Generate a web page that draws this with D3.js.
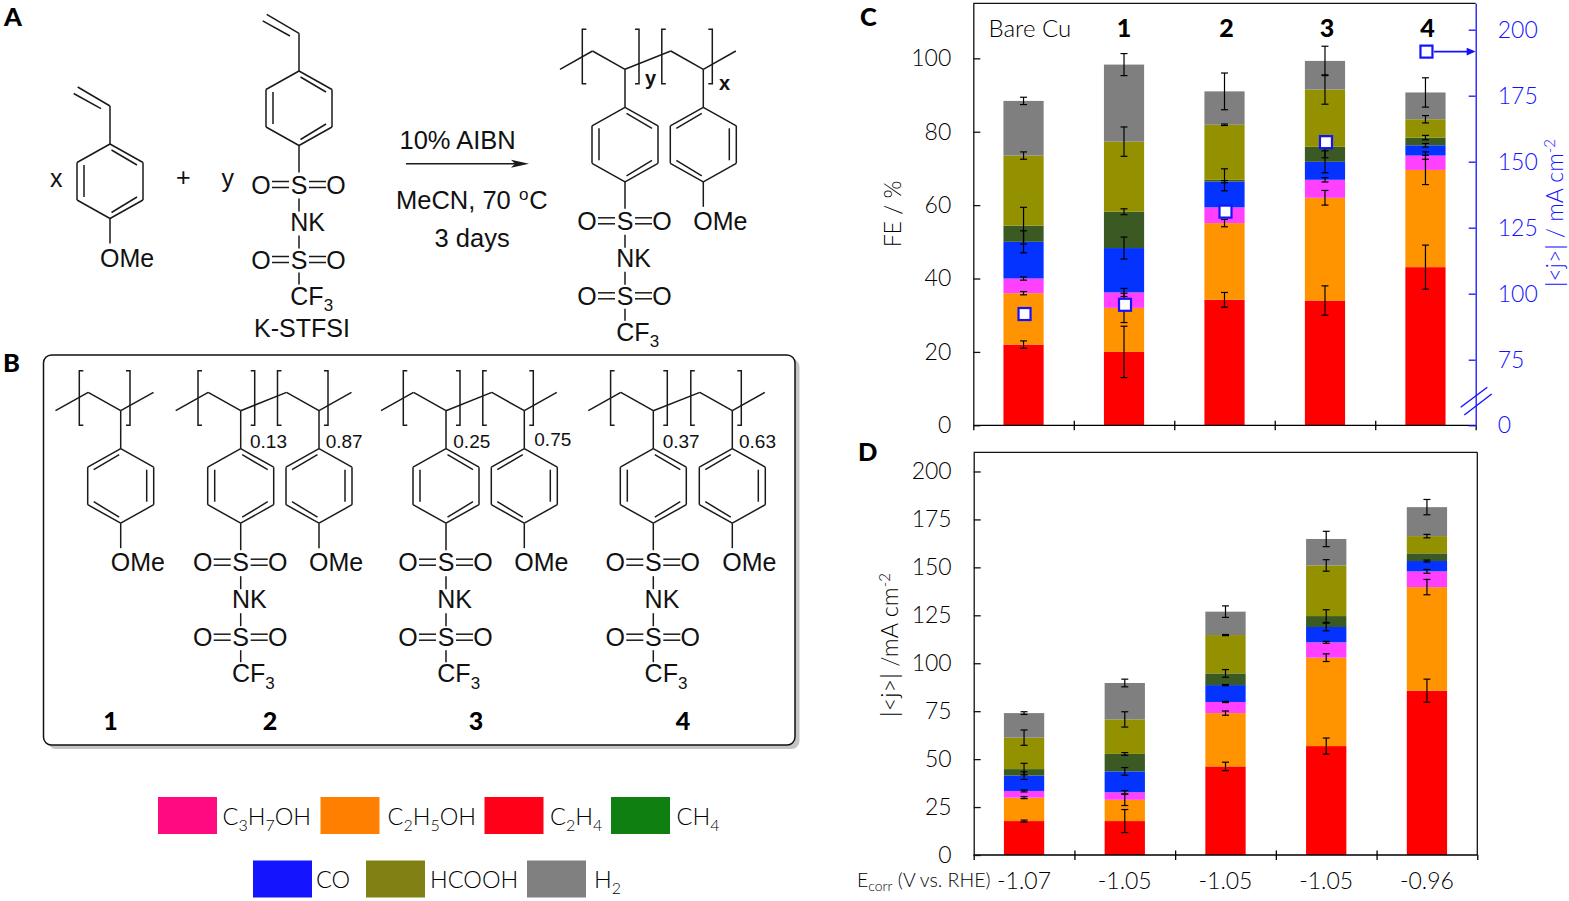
<!DOCTYPE html>
<html>
<head>
<meta charset="utf-8">
<script src="https://cdn.jsdelivr.net/npm/d3@7"></script>
<style>
body { margin: 0; background: #fff; }
svg { display: block; }
text { font-family: Lato, "Open Sans", sans-serif; font-weight: 300; fill: #000; }
.chem text, text.chem { font-family: "Liberation Sans", Arial, sans-serif; font-weight: 400; fill: #111; }
</style>
</head>
<body>
<svg id="fig" width="1569" height="901"></svg>
<script>
// DATA
const catalysts = ["Bare Cu", "1", "2", "3", "4"];
const ecorr = ["-1.07", "-1.05", "-1.05", "-1.05", "-0.96"];
const products = ["C2H4", "C2H5OH", "C3H7OH", "CO", "CH4", "HCOOH", "H2"];
const barColors = ["#ff0000", "#ff9400", "#ff40ff", "#0433ff", "#3b5a23", "#949100", "#7f7f7f"];

// panel C, faradaic efficiency of each product, stacked bottom to top
const feC2H4 = [22, 20, 34.2, 34, 43.1];
const feC2H5OH = [14, 12, 20.9, 28, 26.5];
const feC3H7OH = [4, 4.2, 4.3, 4.9, 3.9];
const feCO = [10, 12.1, 7, 4.9, 2.8];
const feCH4 = [4.4, 9.9, 0.5, 4.1, 2.1];
const feHCOOH = [19.1, 19.1, 15, 15.6, 5];
const feH2 = [14.9, 21, 9.1, 7.8, 7.3];
const feErrC2H4 = [1, 7, 2, 4, 6];
const feErrC2H5OH = [0.45, 4, 1, 2, 4];
const feErrC3H7OH = [0.45, 1.1, 0.3, 0.6, 1];
const feErrCO = [3, 3, 0.3, 3, 0.5];
const feErrCH4 = [5, 0.8, 3, 3, 0.6];
const feErrHCOOH = [1, 4, 0.2, 4, 1];
const feErrH2 = [1, 3, 5, 4, 4];
const totalJ = [92.3, 95.8, 131.1, 157.4, 191.7];

// panel D, partial current density of each product
const jC2H4 = [17.7, 17.7, 46.2, 56.8, 85.7];
const jC2H5OH = [12.2, 11.1, 27.8, 46.1, 54];
const jC3H7OH = [3.5, 3.9, 5.8, 8, 8.2];
const jCO = [8, 10.9, 8.8, 8, 5.4];
const jCH4 = [3.4, 9.1, 6.1, 5.7, 4];
const jHCOOH = [16.4, 18, 20, 26.4, 9];
const jH2 = [12.8, 19, 12.2, 13.8, 15.1];
const jErrC2H4 = [0.5, 6, 2.2, 4.2, 6];
const jErrC2H5OH = [0.5, 3, 1.1, 2, 4];
const jErrC3H7OH = [0.5, 0.9, 0.3, 0.5, 1];
const jErrCO = [2, 2, 0.3, 2, 0.5];
const jErrCH4 = [3, 0.7, 2, 3.3, 0];
const jErrHCOOH = [4, 4, 0.3, 3, 0.9];
const jErrH2 = [0.7, 2, 3, 4, 4];

const feTicks = [0, 20, 40, 60, 80, 100];
const totalTicks = [0, 75, 100, 125, 150, 175, 200];
const jTicks = [0, 25, 50, 75, 100, 125, 150, 175, 200];

const legendRow1 = ["C3H7OH", "C2H5OH", "C2H4", "CH4"];
const legendRow2 = ["CO", "HCOOH", "H2"];
const legendColors1 = ["#ff0a80", "#ff8000", "#ff0018", "#0f7f12"];
const legendColors2 = ["#1414ff", "#808015", "#808080"];

const svg = d3.select("#fig");
const BLUE = "#1212ff";

// digits in a formula go down as subscripts, anything starting with a digit stays plain
function subText(g, x, y, label, size) {
    const t = g.append("text").attr("x", x).attr("y", y).attr("font-size", size);
    if (/^\d/.test(label)) return t.text(label);
    let wasSub = false;
    label.match(/\d+|\D+/g).forEach((part) => {
        const isSub = /^\d+$/.test(part);
        const s = t.append("tspan").text(part);
        if (isSub) {
            s.attr("font-size", size * 0.68).attr("dy", size * 0.26);
        } else if (wasSub) {
            s.attr("dy", -size * 0.26);
        }
        wasSub = isSub;
    });
    return t;
}

function drawStack(top, bottom, xLeft, xRight, yMax, series, errors) {
    const g = svg.append("g");
    const y = d3.scaleLinear().domain([0, yMax]).range([bottom, top]);
    const x = d3.scaleBand().domain(catalysts).range([xLeft, xRight]).paddingInner(0.6).paddingOuter(0.3);

    const rows = catalysts.map((c, i) => {
        const row = { cat: c };
        products.forEach((p, k) => { row[p] = series[k][i]; });
        return row;
    });
    const stacked = d3.stack().keys(products)(rows);

    stacked.forEach((layer, k) => {
        g.append("g").attr("fill", barColors[k]).selectAll("rect").data(layer).join("rect")
            .attr("x", (d) => x(d.data.cat))
            .attr("width", x.bandwidth())
            .attr("y", (d) => y(d[1]))
            .attr("height", (d) => y(d[0]) - y(d[1]));
    });

    // error bars sit on the top of each segment
    stacked.forEach((layer, k) => {
        layer.forEach((d, i) => {
            const err = errors[k][i];
            if (err === 0) return;
            const cx = x(d.data.cat) + x.bandwidth() / 2;
            const eb = g.append("g").attr("stroke", "#000").attr("stroke-width", 1.2);
            eb.append("line").attr("x1", cx).attr("x2", cx).attr("y1", y(d[1] - err)).attr("y2", y(d[1] + err));
            [d[1] - err, d[1] + err].forEach((v) => {
                eb.append("line").attr("x1", cx - 3.5).attr("x2", cx + 3.5).attr("y1", y(v)).attr("y2", y(v));
            });
        });
    });

    // frame, with ticks between the bars on the bottom line
    const edge = d3.scaleLinear().domain([0, catalysts.length]).range([xLeft, xRight]);
    const axB = g.append("g").attr("transform", `translate(0,${bottom})`)
        .call(d3.axisBottom(edge).tickValues([0, 1, 2, 3, 4, 5]).tickSize(5).tickFormat(""));
    axB.selectAll(".tick line").attr("y1", (d) => (d === 0 || d === 5) ? 0 : -4.5).attr("stroke", "#000").attr("stroke-width", 1.3);
    axB.select(".domain").attr("d", `M${xLeft},0H${xRight}`).attr("stroke-width", 1.3);
    g.append("line").attr("x1", xLeft).attr("x2", xRight).attr("y1", top).attr("y2", top)
        .attr("stroke", "#111").attr("stroke-width", 1.3);
    return { g, x, y };
}

// PANEL C
const xL = 973.3, xR = 1475.7, topC = 3.3, botC = 425.3;
const panelC = drawStack(topC, botC, xL, xR, 115,
    [feC2H4, feC2H5OH, feC3H7OH, feCO, feCH4, feHCOOH, feH2],
    [feErrC2H4, feErrC2H5OH, feErrC3H7OH, feErrCO, feErrCH4, feErrHCOOH, feErrH2]);

const axC = panelC.g.append("g").attr("transform", `translate(${xL},0)`)
    .call(d3.axisLeft(panelC.y).tickValues(feTicks).tickSizeInner(-7).tickSizeOuter(0).tickPadding(22));
axC.selectAll("text").attr("font-size", 23);
axC.selectAll("line,path").attr("stroke", "#111").attr("stroke-width", 1.3);

const yTotal = d3.scaleLinear().domain([0, 75, 210]).range([botC, 359.7, topC]);
const axRight = panelC.g.append("g").attr("transform", `translate(${xR},0)`)
    .call(d3.axisRight(yTotal).tickValues(totalTicks).tickSizeInner(-7).tickSizeOuter(0).tickPadding(22));
axRight.selectAll("text").attr("font-size", 23).style("fill", BLUE);
axRight.selectAll("line,path").attr("stroke", BLUE).attr("stroke-width", 1.3);

// axis break
[[1460.7, 407.3, 1487.3, 387.3], [1464.3, 415, 1491.7, 394]].forEach((b) => {
    panelC.g.append("line").attr("x1", b[0]).attr("y1", b[1]).attr("x2", b[2]).attr("y2", b[3])
        .attr("stroke", BLUE).attr("stroke-width", 1.4);
});

// total current markers
panelC.g.selectAll(".mk").data(totalJ).join("rect").attr("class", "mk")
    .attr("x", (d, i) => panelC.x(catalysts[i]) + panelC.x.bandwidth() / 2 - 5)
    .attr("y", (d) => yTotal(d) - 6)
    .attr("width", 12).attr("height", 12)
    .attr("fill", "#fff").attr("stroke", BLUE).attr("stroke-width", 2.2);
const arrowY = yTotal(totalJ[4]);
panelC.g.append("line").attr("x1", 1434).attr("x2", 1468).attr("y1", arrowY).attr("y2", arrowY)
    .attr("stroke", BLUE).attr("stroke-width", 1.6);
panelC.g.append("path").attr("d", `M${xR},${arrowY}l-9,-3.8v7.6z`).attr("fill", BLUE);

// catalyst names over the bars
catalysts.forEach((c, i) => {
    const cx = panelC.x(c) + panelC.x.bandwidth() / 2;
    if (i === 0) {
        svg.append("text").attr("x", 988.5).attr("y", 37).attr("font-size", 24).text(c);
    } else {
        svg.append("text").attr("x", cx + (i > 1 ? 2 : 0)).attr("y", 37).attr("text-anchor", "middle")
            .attr("font-size", 25).style("font-weight", 900).text(c);
    }
});

svg.append("text").attr("transform", "translate(901,214) rotate(-90)").attr("text-anchor", "middle")
    .attr("font-size", 23).text("FE / %");
const rightTitle = svg.append("text").attr("transform", "translate(1563,213) rotate(-90)").attr("text-anchor", "middle")
    .attr("font-size", 23).style("fill", BLUE);
rightTitle.append("tspan").text("|<j>| / mA cm");
rightTitle.append("tspan").attr("font-size", 15).attr("dy", -8).text("-2");

// PANEL D
const topD = 452.3, botD = 855;
const panelD = drawStack(topD, botD, 973.7, 1477.3, 210,
    [jC2H4, jC2H5OH, jC3H7OH, jCO, jCH4, jHCOOH, jH2],
    [jErrC2H4, jErrC2H5OH, jErrC3H7OH, jErrCO, jErrCH4, jErrHCOOH, jErrH2]);
const axD = panelD.g.append("g").attr("transform", "translate(973.7,0)")
    .call(d3.axisLeft(panelD.y).tickValues(jTicks).tickSizeInner(-7).tickSizeOuter(0).tickPadding(22));
axD.selectAll("text").attr("font-size", 23);
axD.selectAll("line,path").attr("stroke", "#111").attr("stroke-width", 1.3);
panelD.g.append("line").attr("x1", 1477.3).attr("x2", 1477.3).attr("y1", topD).attr("y2", botD)
    .attr("stroke", "#111").attr("stroke-width", 1.3);

const leftTitle = svg.append("text").attr("transform", "translate(898,645) rotate(-90)").attr("text-anchor", "middle")
    .attr("font-size", 23.5);
leftTitle.append("tspan").text("|<j>| /mA cm");
leftTitle.append("tspan").attr("font-size", 15).attr("dy", -8).text("-2");

ecorr.forEach((e, i) => {
    svg.append("text").attr("x", panelD.x(catalysts[i]) + panelD.x.bandwidth() / 2).attr("y", 888.5)
        .attr("text-anchor", "middle").attr("font-size", 23).text(e);
});
const eLab = svg.append("text").attr("x", 857).attr("y", 887).attr("font-size", 19.5);
eLab.append("tspan").text("E");
eLab.append("tspan").attr("font-size", 14).attr("dy", 4).text("corr");
eLab.append("tspan").attr("dy", -4).text(" (V vs. RHE)");

// LEGEND
function legendRow(labels, colors, swatchX, textX, y0, h) {
    labels.forEach((lab, i) => {
        svg.append("rect").attr("x", swatchX[i]).attr("y", y0).attr("width", 59).attr("height", h).attr("fill", colors[i]);
        subText(svg, textX[i], y0 + h / 2 + 9, lab, 23.5);
    });
}
legendRow(legendRow1, legendColors1, [158, 320.5, 484.5, 611], [222.5, 387.5, 550, 676.5], 797, 37);
legendRow(legendRow2, legendColors2, [253, 366, 527], [316, 430, 594], 860.5, 37);

// CHEMICAL STRUCTURES (drawing helpers, not data)
const chem = svg.append("g").attr("class", "chem");
const FS = 25;

function seg(x1, y1, x2, y2) {
    chem.append("line").attr("x1", x1).attr("y1", y1).attr("x2", x2).attr("y2", y2)
        .attr("stroke", "#1a1a1a").attr("stroke-width", 1.5);
}
function label(x, y, s, size, anchor) {
    return subText(chem, x, y, s, size || FS).attr("text-anchor", anchor || "start");
}

// dir = 1 has inner bonds upper right, left, lower right; dir = -1 is the mirror
function ring(x, top, dir) {
    const hw = 33;
    const p = [[0, 0], [hw, 18.5], [hw, 56], [0, 74.5], [-hw, 56], [-hw, 18.5], [0, 0]];
    for (let i = 0; i < 6; i++) seg(x + p[i][0], top + p[i][1], x + p[i + 1][0], top + p[i + 1][1]);
    seg(x + dir * 1.5, top + 6, x + dir * 27, top + 21);
    seg(x + dir * 1.5, top + 68.5, x + dir * 27, top + 53);
    seg(x - dir * 26, top + 21, x - dir * 26, top + 53);
}

function sulfonylRow(x, y) {
    label(x, y + 9, "O", FS, "middle").attr("x", x - 38);
    label(x, y + 9, "S", FS, "middle");
    label(x, y + 9, "O", FS, "middle").attr("x", x + 37);
    [-3, 3].forEach((d) => {
        seg(x - 27, y + d, x - 10, y + d);
        seg(x + 10, y + d, x + 27, y + d);
    });
}

// ring bottom down to the CF3 end
function stfsi(x, ringBottom) {
    seg(x, ringBottom, x, ringBottom + 27);
    sulfonylRow(x, ringBottom + 39);
    seg(x, ringBottom + 53, x, ringBottom + 66);
    label(x - 8.7, ringBottom + 85, "NK");
    seg(x, ringBottom + 90, x, ringBottom + 103);
    sulfonylRow(x, ringBottom + 114);
    seg(x, ringBottom + 127, x, ringBottom + 139);
    label(x - 8.7, ringBottom + 159, "CF3");
}

function ome(x, ringBottom) {
    seg(x, ringBottom, x, ringBottom + 25);
    label(x - 10, ringBottom + 48, "OMe");
}

function bracket(x, y0, y1, dir) {
    chem.append("path").attr("d", `M${x + dir * 4},${y0}H${x}V${y1}H${x + dir * 4}`)
        .attr("fill", "none").attr("stroke", "#1a1a1a").attr("stroke-width", 1.5);
}

// lower = y of the lower backbone atoms, rings hang 38 below
function backbone(pts, lower) {
    const upper = lower - 18.3;
    for (let i = 0; i < pts.length - 1; i++) {
        seg(pts[i], i % 2 ? upper : lower, pts[i + 1], i % 2 ? lower : upper);
    }
}

function copolymer(xa, xb, lower) {
    backbone([xa - 65, xa - 32.5, xa, xb - 32.5, xb, xb + 32.5], lower);
    const y0 = lower - 40, y1 = lower + 14.5;
    bracket(xa - 42.7, y0, y1, 1);
    bracket(xa + 14, y0, y1, -1);
    bracket(xb - 41.5, y0, y1, 1);
    bracket(xb + 9, y0, y1, -1);
    seg(xa, lower, xa, lower + 38);
    seg(xb, lower, xb, lower + 38);
    ring(xa, lower + 38, 1);
    ring(xb, lower + 38, -1);
    stfsi(xa, lower + 112.5);
    ome(xb, lower + 112.5);
}

function vinyl(x, y) {
    seg(x - 32.3, y - 19, x, y);
    seg(x - 36.3, y - 12.5, x - 9, y + 2.7);
}

// A: monomers, arrow, copolymer
vinyl(110, 106);
seg(110, 106, 110, 144);
ring(110, 144, 1);
ome(110, 218.5);
vinyl(299, 33.3);
seg(299, 33.3, 299, 71);
ring(299, 71, 1);
stfsi(299, 145.5);
label(254, 337, "K-STFSI");
label(50, 187, "x");
label(176, 185.5, "+");
label(221.5, 187, "y");

label(399.5, 149, "10% AIBN", 25.5);
const meCN = chem.append("text").attr("x", 396).attr("y", 209).attr("font-size", 25.5);
meCN.append("tspan").text("MeCN, 70 ");
meCN.append("tspan").attr("font-size", 17).attr("dx", 1).attr("dy", -9).text("o");
meCN.append("tspan").attr("dx", 1).attr("dy", 9).text("C");
label(434.5, 246.5, "3 days", 25.5);
seg(406, 163.7, 520, 163.7);
chem.append("path").attr("d", "M529,163.7L511,159.7L515,163.7L511,167.7Z").attr("fill", "#1a1a1a");

copolymer(625, 703.3, 69.3);
chem.append("text").attr("x", 645).attr("y", 85).attr("font-size", 20).style("font-weight", 700).text("y");
chem.append("text").attr("x", 719).attr("y", 89.5).attr("font-size", 20).style("font-weight", 700).text("x");

// B: framed box with the four polymers
const boxG = svg.insert("g", ".chem");
boxG.append("rect").attr("x", 48).attr("y", 359).attr("width", 751.5).attr("height", 390).attr("rx", 8).attr("fill", "#c4c4c4");
boxG.append("rect").attr("x", 43.5).attr("y", 355).attr("width", 751.5).attr("height", 390).attr("rx", 8)
    .attr("fill", "#fff").attr("stroke", "#111").attr("stroke-width", 1.5);

// homopolymer 1
backbone([55.5, 88.2, 120.7, 153.5], 410.7);
bracket(79.3, 370.7, 425.2, 1);
bracket(130, 370.7, 425.2, -1);
seg(120.7, 410.7, 120.7, 448.7);
ring(120.7, 448.7, -1);
ome(120.7, 523.2);

copolymer(240.7, 319, 410.7);
copolymer(446, 524.3, 410.7);
copolymer(653.3, 732.3, 410.7);
label(250, 448, "0.13", 19);
label(325.7, 447.5, "0.87", 19);
label(453.3, 448, "0.25", 19);
label(534.3, 446, "0.75", 19);
label(662.7, 448, "0.37", 19);
label(739, 447.5, "0.63", 19);

const boxLabels = ["1", "2", "3", "4"];
const boxLabelX = [110.5, 270, 476, 683];
boxLabels.forEach((s, i) => {
    svg.append("text").attr("x", boxLabelX[i]).attr("y", 730).attr("text-anchor", "middle")
        .attr("font-size", 25).style("font-weight", 900).text(s);
});

// panel letters
const panelNames = ["A", "B", "C", "D"];
const panelX = [4, 3, 860, 858];
const panelY = [26, 372, 25.5, 461];
panelNames.forEach((s, i) => {
    svg.append("text").attr("x", panelX[i]).attr("y", panelY[i]).attr("font-size", 25.5).style("font-weight", 900).text(s);
});
</script>
</body>
</html>
